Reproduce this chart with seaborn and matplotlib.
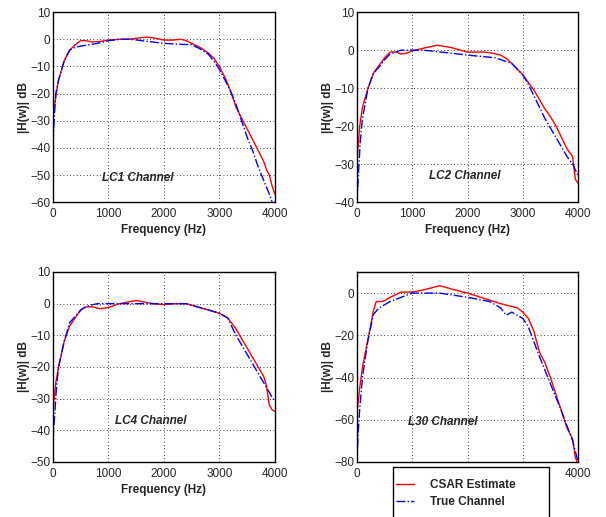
import numpy as np
import pandas as pd
import seaborn as sns
import matplotlib.pyplot as plt
from matplotlib.patches import Rectangle

sns.set_style('white')
plt.rcParams['font.family'] = ['Liberation Sans', 'DejaVu Sans']

# ---- LC1 channel ----
lc1_est_f = [0, 50, 100, 200, 300, 400, 500, 600, 700, 850, 1000, 1200, 1400, 1550, 1700, 1850, 2000, 2150, 2300, 2400, 2500, 2650, 2800, 2900, 3000, 3100, 3200, 3300, 3400, 3500, 3600, 3700, 3800, 3850, 3900, 3950, 4000]
lc1_est_db = [-29, -21, -15, -8, -4, -2, -0.5, -0.5, -1, -0.8, -0.3, 0, 0.1, 0.5, 0.8, 0.4, -0.3, -0.3, 0, -0.5, -1.5, -3, -5, -7, -10, -14, -19, -25, -29, -33, -37, -41, -45, -48, -50, -54, -57]
lc1_true_f = [0, 25, 50, 100, 200, 300, 400, 500, 650, 800, 1000, 1200, 1400, 1600, 1800, 2000, 2250, 2500, 2650, 2800, 2900, 3000, 3100, 3200, 3300, 3400, 3500, 3600, 3700, 3800, 3900, 3950]
lc1_true_db = [-38, -28, -20, -15, -8, -4, -3, -2.5, -2, -1.5, -0.5, 0, 0, -0.5, -1, -1.5, -1.8, -2, -3.5, -5.5, -8, -11, -15, -19, -24, -30, -36, -41, -47, -52, -57, -60]

# ---- LC2 channel ----
lc2_est_f = [0, 50, 100, 200, 300, 400, 500, 600, 700, 800, 900, 1000, 1200, 1450, 1700, 2000, 2150, 2300, 2450, 2600, 2700, 2800, 2900, 3000, 3100, 3200, 3300, 3400, 3500, 3600, 3700, 3800, 3900, 3950, 4000]
lc2_est_db = [-29, -20, -15, -10, -6, -4, -2, -0.5, -0.5, -1, -0.8, -0.2, 0.5, 1.3, 0.7, -0.5, -0.5, -0.5, -0.8, -1.3, -2.2, -3.5, -5, -6.5, -8.5, -10.5, -13, -15.5, -17.5, -20, -23, -26, -28, -34, -35]
lc2_true_f = [0, 30, 60, 100, 200, 300, 400, 500, 600, 800, 1000, 1200, 1400, 1700, 2000, 2500, 2800, 2900, 3000, 3100, 3200, 3300, 3400, 3500, 3600, 3700, 3800, 3900, 4000]
lc2_true_db = [-40, -32, -24, -18, -10, -6, -4.5, -2.5, -1, 0, 0, 0, -0.3, -0.8, -1.3, -2, -3.5, -5, -6.5, -9, -12, -15, -18, -20.5, -23, -25.5, -28, -30, -33]

# ---- LC4 channel ----
lc4_est_f = [0, 50, 100, 200, 300, 400, 500, 600, 700, 850, 1000, 1200, 1500, 1650, 1800, 2000, 2200, 2400, 2600, 2800, 3000, 3150, 3300, 3400, 3500, 3600, 3700, 3800, 3850, 3900, 3950, 4000]
lc4_est_db = [-33, -25, -20, -12, -7, -4.5, -2, -1, -1, -1.6, -1.2, 0, 1, 0.5, 0, -0.3, 0, 0, -1, -2, -3, -4.5, -8, -11, -14, -17, -20, -23, -26, -32, -33.5, -34]
lc4_true_f = [0, 30, 60, 100, 200, 300, 400, 500, 600, 800, 1000, 1500, 2000, 2400, 2600, 2800, 3000, 3150, 3300, 3400, 3500, 3600, 3700, 3800, 3900, 4000]
lc4_true_db = [-43, -35, -27, -20, -12, -6, -4, -2, -0.8, 0, 0, 0, 0, 0, -1, -2, -3, -4.5, -10, -13, -16, -19, -22, -25, -28, -31]

# ---- L30 channel ----
l30_est_f = [0, 50, 100, 200, 300, 350, 450, 500, 600, 800, 1000, 1200, 1500, 1700, 2000, 2300, 2600, 2900, 3000, 3100, 3200, 3300, 3400, 3500, 3600, 3700, 3800, 3900, 3950, 4000]
l30_est_db = [-57, -45, -35, -22, -8, -4, -4, -3.5, -2, 0.5, 0.5, 1.5, 3.5, 2, 0, -2.5, -5, -7, -9, -12, -18, -28, -33, -40, -48, -56, -64, -69, -78, -81]
l30_true_f = [0, 20, 50, 100, 200, 300, 400, 600, 800, 1000, 1500, 2000, 2400, 2600, 2700, 2800, 3000, 3100, 3300, 3500, 3700, 3900, 4000]
l30_true_db = [-80, -67, -55, -40, -22, -10, -7, -4, -2, 0, 0, -2, -4, -7, -10.5, -9, -12, -16, -30, -43, -56, -70, -80]

freq_ticks = [0, 1000, 2000, 3000, 4000]
freq_labels = ['0', '1000', '2000', '3000', '4000']
freq_labels_l30 = ['0', '', '', '', '4000']  # middle ones sit under the legend box

panels = [
    ('LC1 Channel', lc1_est_f, lc1_est_db, lc1_true_f, lc1_true_db, (-60, 10), [-60, -50, -40, -30, -20, -10, 0, 10], (880, -51)),
    ('LC2 Channel', lc2_est_f, lc2_est_db, lc2_true_f, lc2_true_db, (-40, 10), [-40, -30, -20, -10, 0, 10], (1300, -33)),
    ('LC4 Channel', lc4_est_f, lc4_est_db, lc4_true_f, lc4_true_db, (-50, 10), [-50, -40, -30, -20, -10, 0, 10], (1120, -37)),
    ('L30 Channel', l30_est_f, l30_est_db, l30_true_f, l30_true_db, (-80, 10), [-80, -60, -40, -20, 0], (920, -61)),
]
positions = [
    [0.0875, 0.609, 0.366, 0.3675],
    [0.589, 0.609, 0.365, 0.3675],
    [0.0875, 0.1064, 0.366, 0.3675],
    [0.589, 0.1064, 0.365, 0.3675],
]

fig = plt.figure(figsize=(6.06, 5.17), dpi=100)
for i, (name, ef, edb, tf, tdb, ylim, yticks, txt) in enumerate(panels):
    ax = fig.add_axes(positions[i])
    sns.lineplot(x=ef, y=edb, ax=ax, color='red', lw=1.0, label='CSAR Estimate', legend=False)
    sns.lineplot(x=tf, y=tdb, ax=ax, color='blue', lw=1.0, linestyle='-.', label='True Channel', legend=False)
    ax.set_xlim(0, 4000)
    ax.set_ylim(*ylim)
    ax.set_yticks(yticks)
    ax.set_xticks(freq_ticks)
    ax.set_xticklabels(freq_labels_l30 if i == 3 else freq_labels)
    ax.grid(True, color='black', linestyle=(0, (1, 3)), linewidth=0.6)
    for s in ax.spines.values():
        s.set_color('black')
        s.set_linewidth(1.0)
    ax.tick_params(labelsize=8.5, length=0)
    ax.tick_params(axis='x', pad=4)
    ax.tick_params(axis='y', pad=2)
    ax.set_ylabel('|H(w)| dB', fontsize=8.5, fontweight='bold', labelpad=0)
    if i < 3:
        ax.set_xlabel('Frequency (Hz)', fontsize=8.5, fontweight='bold', labelpad=3)
    ax.text(txt[0], txt[1], name, fontsize=8.5, fontweight='bold', style='italic', va='center')
    if i == 3:
        handles, labels = ax.get_legend_handles_labels()

# legend frame (runs off the bottom edge, as in the original)
fig.patches.append(Rectangle((393 / 606, -0.05), 156 / 606, 0.05 + 50 / 517,
                             transform=fig.transFigure, facecolor='white',
                             edgecolor='black', lw=1.0, zorder=9))
leg = fig.legend(handles, labels, loc='upper left', bbox_to_anchor=(396 / 606, 1 - 479 / 517),
                 prop={'weight': 'bold', 'size': 8.5}, frameon=False, borderaxespad=0,
                 borderpad=0.0, handlelength=1.5, handletextpad=1.4, labelspacing=0.45)
leg.set_zorder(10)

fig.savefig('out.png', dpi=100)
